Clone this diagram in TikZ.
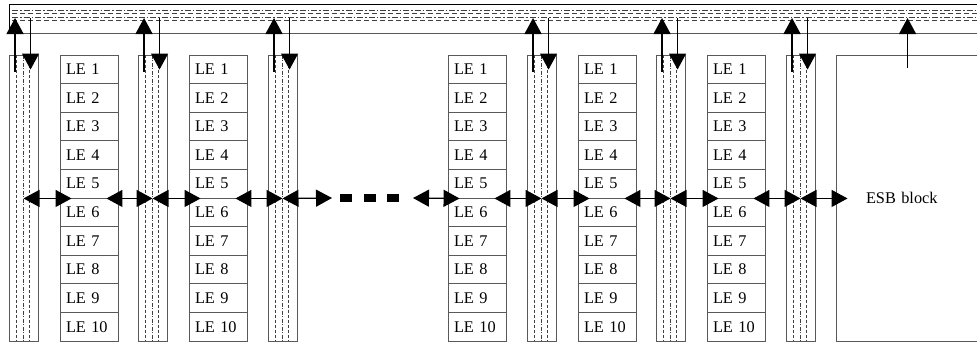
\documentclass[tikz,border=0pt]{standalone}
\usepackage{fontspec}
\setmainfont{Liberation Serif}
\usetikzlibrary{arrows.meta,positioning}

\begin{document}
\begin{tikzpicture}[x=1pt,y=-1pt,
	chan/.style={rectangle,draw=black!65,line width=0.9pt,minimum width=29pt,minimum height=286pt,inner sep=0pt},
	lebox/.style={rectangle,draw=black!65,line width=0.9pt,minimum width=58pt,minimum height=28.6pt,text width=46pt,inner xsep=6pt,inner ysep=0pt,align=left,font=\fontsize{16.3}{18}\selectfont},
	esbbox/.style={rectangle,draw=black!65,line width=0.9pt,minimum height=286pt,text width=140pt,inner xsep=30pt,align=left,font=\fontsize{16.3}{18}\selectfont},
	wire/.style={draw=black!75,line width=0.8pt},
	>={Triangle[length=16pt,width=17pt]}, line width=1.3pt]
	\useasboundingbox (0,0) rectangle (977,343);
	\coordinate (bus) at (0,18);
	% global bus
	\draw[line width=0.9pt] (977,4) -- (9,4) -- (9,33);
	\draw[black!65,line width=1pt] (9,33) -- (977,33);
	\foreach \y in {10.5,17.5} {
		\draw[wire,dash pattern=on 6pt off 2pt on 1.5pt off 2pt] (12,\y) -- (977,\y);
		\draw[wire,dash pattern=on 5pt off 3pt] (12,\y+2.5) -- (977,\y+2.5);
	}
	% routing channels
	\foreach \n/\x in {1/9,2/138,3/268,4/527,5/656,6/786} {
		\node[chan] (c\n) at (\x+14.5,198) {};
		\draw[wire,dash pattern=on 3pt off 2pt] ([xshift=8pt]c\n.north west) -- ([xshift=8pt]c\n.south west);
		\draw[wire,dash pattern=on 4pt off 1.5pt on 1pt off 1.5pt] ([xshift=14.5pt]c\n.north west) -- ([xshift=14.5pt]c\n.south west);
		\draw[wire,dash pattern=on 3pt off 2pt] ([xshift=21pt]c\n.north west) -- ([xshift=21pt]c\n.south west);
		\draw[->] ([xshift=6.5pt,yshift=-17pt]c\n.north west) -- ([xshift=6.5pt]c\n.north west |- bus);
		\draw[->] ([xshift=22pt]c\n.north west |- bus) -- ([xshift=22pt,yshift=-15pt]c\n.north west);
	}
	% logic element stacks
	\foreach \s/\x in {1/60,2/189,3/448,4/578,5/707}
		\foreach \r in {1,...,10}
			\node[lebox] (s\s-\r) at (\x+29,{55+28.6*(\r-0.5)}) {LE \r};
	% ESB
	\node[esbbox] (esb) at (936,198) {ESB block};
	\draw[->] ([xshift=72pt,yshift=-13pt]esb.north west) -- ([xshift=72pt]esb.north west |- bus);
	% gap
	\coordinate (gapl) at (332,198);
	\coordinate (gapr) at (413,198);
	\draw[line width=8pt,dash pattern=on 12pt off 11.5pt] (340,198) -- (399,198);
	% local interconnect
	\draw[<->] (c1 |- s1-5.south) -- ([xshift=12pt]s1-5.south west);
	\draw[<->] ([xshift=-12pt]s1-5.south east) -- (c2 |- s1-5.south);
	\draw[<->] (c2 |- s2-5.south) -- ([xshift=12pt]s2-5.south west);
	\draw[<->] ([xshift=-12pt]s2-5.south east) -- (c3 |- s2-5.south);
	\draw[<->] (c3 |- s2-5.south) -- (gapl);
	\draw[<->] (gapr) -- ([xshift=12pt]s3-5.south west);
	\draw[<->] ([xshift=-12pt]s3-5.south east) -- (c4 |- s3-5.south);
	\draw[<->] (c4 |- s4-5.south) -- ([xshift=12pt]s4-5.south west);
	\draw[<->] ([xshift=-12pt]s4-5.south east) -- (c5 |- s4-5.south);
	\draw[<->] (c5 |- s5-5.south) -- ([xshift=12pt]s5-5.south west);
	\draw[<->] ([xshift=-12pt]s5-5.south east) -- (c6 |- s5-5.south);
	\draw[<->] (c6 |- s5-5.south) -- ([xshift=12pt]esb.west |- s5-5.south);
\end{tikzpicture}
\end{document}
